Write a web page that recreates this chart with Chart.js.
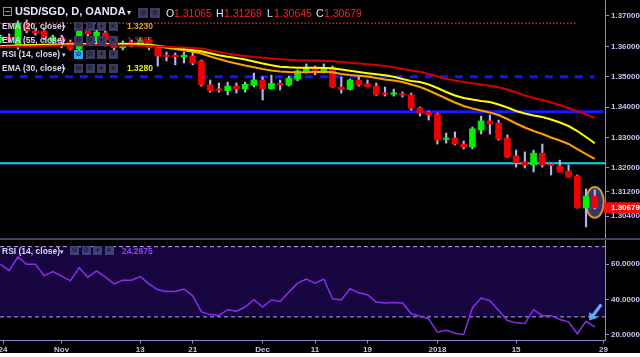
<!DOCTYPE html>
<html><head><meta charset="utf-8">
<script src="https://cdn.jsdelivr.net/npm/chart.js@4/dist/chart.umd.min.js"></script>
<style>
html,body{margin:0;padding:0;background:#fff;}
#wrap{position:relative;width:640px;height:353px;background:#000;overflow:hidden;font-family:"Liberation Sans",Arial,sans-serif;}
canvas{display:block;}
#main{position:absolute;left:0;top:0;}
#rsi{position:absolute;left:0;top:240px;}
#sep{position:absolute;left:0;top:238px;width:640px;height:2px;background:#44445e;}
.t{position:absolute;white-space:nowrap;line-height:1;}
.lg{font-size:8.5px;font-weight:bold;color:#d8d8f8;}
.dd{font-family:"DejaVu Sans",sans-serif;font-size:7px;color:#d8d8f8;}
.box{position:absolute;width:9px;height:9px;background:#3c3c5e;color:#14142a;font-size:7px;line-height:9px;text-align:center;font-family:"DejaVu Sans",sans-serif;font-weight:bold;}
.rb{background:#40407a;color:#1a1240;}
.hd{font-size:10.5px;color:#e4e4ff;}
.rd{font-size:10.5px;color:#ff2020;}
</style></head><body>
<div id="wrap">
<canvas id="main" width="640" height="238"></canvas>
<div id="sep"></div>
<canvas id="rsi" width="640" height="113"></canvas>

<!-- header -->
<div style="position:absolute;left:3px;top:7px;width:7px;height:7px;border:1px solid #8a8ad0;"></div>
<div style="position:absolute;left:5px;top:11px;width:5px;height:1px;background:#8a8ad0;"></div>
<div class="t" style="left:15px;top:6px;font-size:11px;font-weight:bold;color:#e6e6ff;">USD/SGD, D, OANDA</div>
<div class="t dd" style="left:127px;top:9px;font-size:8px;">▾</div>
<div class="box" style="left:138px;top:8px;width:10px;height:10px;line-height:10px;">⊙</div>
<div class="box" style="left:150px;top:8px;width:10px;height:10px;line-height:10px;">⚙</div>
<div class="t hd" style="left:166px;top:8px;">O</div><div class="t rd" style="left:174px;top:8px;">1.31065</div>
<div class="t hd" style="left:216px;top:8px;">H</div><div class="t rd" style="left:224px;top:8px;">1.31269</div>
<div class="t hd" style="left:267px;top:8px;">L</div><div class="t rd" style="left:274px;top:8px;">1.30645</div>
<div class="t hd" style="left:316px;top:8px;">C</div><div class="t rd" style="left:324px;top:8px;">1.30679</div>

<!-- legend rows -->
<div class="t lg" style="left:2px;top:22px;">EMA (20, close)</div><div class="t dd" style="left:62px;top:24px;">▾</div>
<div class="box" style="left:74px;top:22px;">⊙</div><div class="box" style="left:85.5px;top:22px;">⚙</div><div class="box" style="left:97px;top:22px;">+</div><div class="box" style="left:108.5px;top:22px;">×</div>
<div class="t lg" style="left:127px;top:22px;color:#e8a020;">1.3230</div>

<div class="t lg" style="left:2px;top:36px;">EMA (55, close)</div><div class="t dd" style="left:62px;top:38px;">▾</div>
<div class="box" style="left:74px;top:36px;">⊙</div><div class="box" style="left:85.5px;top:36px;">⚙</div><div class="box" style="left:97px;top:36px;">+</div><div class="box" style="left:108.5px;top:36px;">×</div>
<div class="t lg" style="left:127px;top:36px;color:#cc1010;">1.3365</div>

<div class="t lg" style="left:2px;top:49.5px;">RSI (14, close)</div><div class="t dd" style="left:62px;top:51.5px;">▾</div>
<div class="box" style="left:74px;top:49.5px;background:#3aa4e4;color:#0a2c50;">⊙</div><div class="box" style="left:85.5px;top:49.5px;">⚙</div><div class="box" style="left:97px;top:49.5px;">+</div><div class="box" style="left:108.5px;top:49.5px;">×</div>

<div class="t lg" style="left:2px;top:63.5px;">EMA (30, close)</div><div class="t dd" style="left:62px;top:65.5px;">▾</div>
<div class="box" style="left:74px;top:63.5px;">⊙</div><div class="box" style="left:85.5px;top:63.5px;">⚙</div><div class="box" style="left:97px;top:63.5px;">+</div><div class="box" style="left:108.5px;top:63.5px;">×</div>
<div class="t lg" style="left:127px;top:63.5px;color:#e8e820;">1.3280</div>

<!-- RSI legend -->
<div class="t lg" style="left:2px;top:246.5px;">RSI (14, close)</div><div class="t dd" style="left:60px;top:248.5px;">▾</div>
<div class="box rb" style="left:70px;top:246px;">⊙</div><div class="box rb" style="left:81.5px;top:246px;">⚙</div><div class="box rb" style="left:93px;top:246px;">+</div><div class="box rb" style="left:104.5px;top:246px;">×</div>
<div class="t lg" style="left:122px;top:246.5px;color:#9a3cff;">24.2975</div>
</div>

<script>
// ---------- data ----------
const tickLabels = ['24','Nov','13','21','Dec','11','19','2018','15','29'];
const tickBars   = [0.3, 7, 16, 22, 30, 36, 42, 50, 59, 69];

const open  = [1.3618,1.3631,1.3598,1.3677,1.3651,1.3651,1.3618,1.3628,1.3614,1.3591,
               1.3657,1.3618,1.3644,1.3621,1.3595,1.3611,1.3608,1.3621,1.3595,1.3570,
               1.3570,1.3565,1.3568,1.3552,1.3473,1.3458,1.3454,1.3469,1.3460,1.3472,
               1.3489,1.3460,1.3478,1.3472,1.3492,1.3516,1.3530,1.3519,1.3530,1.3466,
               1.3458,1.3489,1.3476,1.3469,1.3444,1.3442,1.3443,1.3440,1.3397,1.3384,
               1.3377,1.3293,1.3298,1.3278,1.3268,1.3324,1.3354,1.3347,1.3298,1.3239,
               1.3219,1.3209,1.3248,1.3211,1.3206,1.3189,1.3173,1.3067,1.31065];
const high  = [1.3637,1.3641,1.3684,1.3687,1.3657,1.3660,1.3637,1.3637,1.3621,1.3668,
               1.3670,1.3654,1.3651,1.3628,1.3618,1.3621,1.3628,1.3628,1.3601,1.3581,
               1.3578,1.3581,1.3581,1.3555,1.3489,1.3479,1.3482,1.3479,1.3482,1.3512,
               1.3499,1.3505,1.3489,1.3502,1.3522,1.3542,1.3535,1.3542,1.3535,1.3499,
               1.3492,1.3502,1.3489,1.3479,1.3466,1.3459,1.3450,1.3446,1.3400,1.3387,
               1.3380,1.3314,1.3318,1.3288,1.3334,1.3370,1.3374,1.3357,1.3308,1.3258,
               1.3252,1.3258,1.3278,1.3215,1.3225,1.3209,1.3176,1.3130,1.31269];
const low   = [1.3611,1.3614,1.3591,1.3644,1.3637,1.3621,1.3611,1.3595,1.3588,1.3588,
               1.3634,1.3611,1.3601,1.3588,1.3588,1.3598,1.3601,1.3588,1.3535,1.3552,
               1.3539,1.3545,1.3539,1.3469,1.3449,1.3449,1.3440,1.3446,1.3449,1.3466,
               1.3423,1.3459,1.3456,1.3469,1.3486,1.3512,1.3506,1.3512,1.3465,1.3446,
               1.3456,1.3469,1.3466,1.3438,1.3436,1.3436,1.3433,1.3390,1.3370,1.3357,
               1.3278,1.3281,1.3275,1.3262,1.3262,1.3311,1.3311,1.3291,1.3234,1.3202,
               1.3199,1.3186,1.3202,1.3176,1.3186,1.3169,1.3067,1.3005,1.30645];
const close = [1.3631,1.3621,1.3677,1.3651,1.3644,1.3628,1.3631,1.3618,1.3591,1.3664,
               1.3641,1.3647,1.3621,1.3595,1.3611,1.3604,1.3621,1.3595,1.3568,1.3566,
               1.3566,1.3571,1.3545,1.3473,1.3454,1.3455,1.3469,1.3460,1.3475,1.3489,
               1.3460,1.3478,1.3472,1.3495,1.3519,1.3530,1.3519,1.3530,1.3466,1.3458,
               1.3489,1.3473,1.3467,1.3440,1.3442,1.3444,1.3439,1.3396,1.3380,1.3374,
               1.3291,1.3296,1.3278,1.3268,1.3328,1.3354,1.3344,1.3295,1.3235,1.3216,
               1.3209,1.3248,1.3209,1.3207,1.3186,1.3169,1.3067,1.3107,1.30679];

const ema20 = [1.35995,1.36005,1.36018,1.36031,1.36037,1.36044,1.36051,1.36051,1.36051,1.36061,
               1.36070,1.36077,1.36077,1.36070,1.36067,1.36064,1.36057,1.36034,1.35995,1.35952,
               1.35912,1.35873,1.35820,1.35764,1.35665,1.35582,1.35500,1.35434,1.35368,1.35309,
               1.35253,1.35204,1.35171,1.35154,1.35144,1.35148,1.35158,1.35164,1.35144,1.35088,
               1.35055,1.35029,1.35006,1.34957,1.34907,1.34874,1.34825,1.34742,1.34660,1.34544,
               1.34412,1.34280,1.34149,1.34034,1.33951,1.33885,1.33819,1.33737,1.33605,1.33457,
               1.33325,1.33209,1.33110,1.32995,1.32896,1.32781,1.32616,1.32451,1.32287];
const ema30 = [1.36011,1.36018,1.36028,1.36037,1.36044,1.36051,1.36057,1.36064,1.36070,1.36077,
               1.36077,1.36077,1.36077,1.36077,1.36077,1.36077,1.36070,1.36051,1.36018,1.35978,
               1.35945,1.35912,1.35873,1.35837,1.35770,1.35704,1.35655,1.35615,1.35566,1.35500,
               1.35434,1.35375,1.35329,1.35309,1.35296,1.35293,1.35293,1.35286,1.35276,1.35237,
               1.35194,1.35154,1.35115,1.35078,1.35045,1.34996,1.34924,1.34858,1.34825,1.34742,
               1.34627,1.34495,1.34379,1.34297,1.34247,1.34198,1.34165,1.34083,1.33984,1.33869,
               1.33786,1.33720,1.33671,1.33589,1.33490,1.33374,1.33209,1.33011,1.32804];
const ema55 = [1.35978,1.35985,1.35991,1.35998,1.36005,1.36011,1.36018,1.36024,1.36031,1.36037,
               1.36041,1.36044,1.36044,1.36037,1.36031,1.36024,1.36018,1.36011,1.35998,1.35985,
               1.35972,1.35958,1.35945,1.35929,1.35873,1.35813,1.35760,1.35714,1.35681,1.35648,
               1.35622,1.35596,1.35576,1.35556,1.35540,1.35533,1.35530,1.35523,1.35510,1.35484,
               1.35457,1.35434,1.35411,1.35385,1.35352,1.35309,1.35253,1.35204,1.35164,1.35088,
               1.35006,1.34930,1.34874,1.34825,1.34782,1.34742,1.34699,1.34650,1.34577,1.34478,
               1.34379,1.34297,1.34231,1.34149,1.34067,1.33967,1.33869,1.33753,1.33648];

const rsi = [60,56.3,64.2,60,60,53.5,55.8,53.2,50.5,58,
             52.6,56.2,52.6,48.8,50.9,50.9,52.9,48.8,45.4,44.5,
             44.5,45.8,42,32.8,31.3,30.9,34.1,33.2,35.6,39.8,
             35.6,39.6,38.8,44.1,49.2,51.5,49.2,51.5,40.3,39.6,
             46,43.7,42.6,38.5,37.9,38.2,37.9,31.9,30.4,28.9,
             21.3,22.4,20.7,20,35.1,40.7,39.2,33.7,27.9,26.6,
             26.2,34.1,30.7,30.7,28.5,27.2,20.4,27.5,24.2975];

const priceTicks = [1.37, 1.36, 1.35, 1.34, 1.33, 1.32, 1.312, 1.304];
const rsiTicks = [20, 40, 60];
const rsiBands = [70, 30];
const levelDotted = 1.3676;   // red dotted
const levelDashed = 1.3500;   // blue dashed
const levelBlue   = 1.3384;   // blue solid
const levelCyan   = 1.3215;   // cyan

// ---------- config ----------
const X_MIN = -0.05, X_MAX = 69.17;
const PRICE_MIN = 1.29683, PRICE_MAX = 1.37527;
const RSI_MIN = 16.55, RSI_MAX = 73.5;
const AXIS = '#8c8cd0', TICK = '#c4c4f0';
const FONT = {family: 'Liberation Sans', size: 8, weight: 'bold'};
const UP = '#00f000', DOWN = '#f00000', WICK = '#b4b4f0';

const idx = open.map((_, i) => i);
const last = idx.length - 1;
const pts = arr => idx.map(i => ({x: i, y: arr[i]}));
const hline = (v, a, b) => [{x: a, y: v}, {x: b, y: v}];
const noPad = s => { s.paddingLeft = 0; s.paddingRight = 0; s.paddingTop = 0; s.paddingBottom = 0; };

const lineDs = (data, color, order, extra) => Object.assign({
  type: 'line', data, borderColor: color, borderWidth: 2, pointRadius: 0,
  tension: 0, fill: false, order
}, extra || {});

const mainDeco = {
  id: 'mainDeco',
  beforeDatasetsDraw(chart) {
    const ctx = chart.ctx, xS = chart.scales.x, yS = chart.scales.y;
    const xp = xS.getPixelForValue(last);
    const yH = yS.getPixelForValue(high[last]), yL = yS.getPixelForValue(low[last]);
    ctx.save();
    ctx.beginPath();
    ctx.ellipse(xp, (yH + yL) / 2 + 3, 9, (yL - yH) / 2 + 6, 0, 0, Math.PI * 2);
    ctx.fillStyle = '#383866';
    ctx.fill();
    ctx.lineWidth = 2;
    ctx.strokeStyle = '#d99a30';
    ctx.stroke();
    ctx.restore();
  },
  afterDraw(chart) {
    const ctx = chart.ctx, yS = chart.scales.y;
    const yp = yS.getPixelForValue(close[last]);
    ctx.save();
    ctx.fillStyle = '#ee1010';
    ctx.fillRect(yS.left - 1, yp - 5.5, 37, 11);
    ctx.fillStyle = '#ffffff';
    ctx.font = 'bold 8px "Liberation Sans"';
    ctx.textBaseline = 'middle';
    ctx.fillText(close[last].toFixed(5), yS.left + 6, yp + 0.5);
    ctx.restore();
  }
};

new Chart(document.getElementById('main'), {
  type: 'bar',
  data: {
    datasets: [
      lineDs(pts(ema55), '#d40000', 0),
      lineDs(pts(ema30), '#ffff00', 1),
      lineDs(pts(ema20), '#ffa000', 2),
      {type: 'bar', data: idx.map(i => ({x: i, y: [open[i], close[i]]})),
       backgroundColor: idx.map(i => close[i] >= open[i] ? UP : DOWN),
       barThickness: 6, minBarLength: 1.5, grouped: false, borderWidth: 0, order: 3},
      {type: 'bar', data: idx.map(i => ({x: i, y: [low[i], high[i]]})),
       backgroundColor: WICK, barThickness: 1.5, grouped: false, borderWidth: 0, order: 4},
      lineDs(hline(levelDotted, X_MIN, 66), '#d02020', 5, {borderWidth: 1.5, borderDash: [1.5, 2]}),
      lineDs(hline(levelDashed, 0.5, 68), '#1414ff', 6, {borderWidth: 3, borderDash: [8, 7]}),
      lineDs(hline(levelBlue, X_MIN, 69), '#1818ff', 7, {borderWidth: 3}),
      lineDs(hline(levelCyan, X_MIN, X_MAX), '#00dcff', 8, {borderWidth: 2})
    ]
  },
  options: {
    responsive: false, animation: false, devicePixelRatio: 1,
    layout: {padding: 0},
    plugins: {legend: {display: false}, tooltip: {enabled: false}},
    scales: {
      x: {type: 'linear', min: X_MIN, max: X_MAX, display: false, offset: false,
          afterFit: noPad},
      y: {
        type: 'linear', position: 'right', min: PRICE_MIN, max: PRICE_MAX,
        grid: {drawOnChartArea: false, drawTicks: true, tickLength: 4, color: AXIS},
        border: {display: true, color: AXIS, width: 1},
        ticks: {color: TICK, font: FONT, padding: 2, autoSkip: false, callback: v => Number(v).toFixed(5)},
        afterBuildTicks: s => { s.ticks = priceTicks.map(v => ({value: v})); },
        afterFit: s => { s.width = 35; noPad(s); }
      }
    }
  },
  plugins: [mainDeco]
});

const rsiDeco = {
  id: 'rsiDeco',
  afterDatasetsDraw(chart) {
    const ctx = chart.ctx, xS = chart.scales.x, yS = chart.scales.y;
    const x1 = xS.getPixelForValue(68.65), y1 = yS.getPixelForValue(36.5);
    const x2 = xS.getPixelForValue(67.35), y2 = yS.getPixelForValue(27.9);
    const ang = Math.atan2(y2 - y1, x2 - x1);
    const hl = 7, hw = 5;
    const bx = x2 - hl * Math.cos(ang), by = y2 - hl * Math.sin(ang);
    ctx.save();
    ctx.strokeStyle = '#58acf4';
    ctx.lineWidth = 3.2;
    ctx.lineCap = 'round';
    ctx.beginPath(); ctx.moveTo(x1, y1); ctx.lineTo(bx, by); ctx.stroke();
    ctx.fillStyle = '#58acf4';
    ctx.beginPath();
    ctx.moveTo(x2, y2);
    ctx.lineTo(bx + hw * Math.sin(ang), by - hw * Math.cos(ang));
    ctx.lineTo(bx - hw * Math.sin(ang), by + hw * Math.cos(ang));
    ctx.closePath(); ctx.fill();
    ctx.restore();
  }
};

new Chart(document.getElementById('rsi'), {
  type: 'line',
  data: {
    datasets: [
      {data: pts(rsi), borderColor: '#8c2cf0', borderWidth: 1.5, pointRadius: 0, tension: 0, fill: false, order: 0},
      {data: hline(rsiBands[0], X_MIN, X_MAX), borderColor: '#b8a8f0', borderWidth: 1, borderDash: [4, 3],
       pointRadius: 0, fill: {value: rsiBands[1]}, backgroundColor: '#170540', order: 2},
      {data: hline(rsiBands[1], X_MIN, X_MAX), borderColor: '#b8a8f0', borderWidth: 1, borderDash: [4, 3],
       pointRadius: 0, fill: false, order: 1}
    ]
  },
  options: {
    responsive: false, animation: false, devicePixelRatio: 1,
    layout: {padding: {top: 0.5, left: 0, right: 0, bottom: 0}},
    plugins: {legend: {display: false}, tooltip: {enabled: false}},
    scales: {
      x: {
        type: 'linear', min: X_MIN, max: X_MAX, offset: false,
        grid: {drawOnChartArea: false, drawTicks: true, tickLength: 3, color: AXIS},
        border: {display: true, color: AXIS, width: 1},
        ticks: {color: TICK, font: FONT, padding: 1, maxRotation: 0, autoSkip: false,
                callback: (v, i) => tickLabels[i]},
        afterBuildTicks: s => { s.ticks = tickBars.map(v => ({value: v})); },
        afterFit: s => { s.height = 12.5; noPad(s); }
      },
      y: {
        type: 'linear', position: 'right', min: RSI_MIN, max: RSI_MAX,
        grid: {drawOnChartArea: false, drawTicks: true, tickLength: 4, color: AXIS},
        border: {display: true, color: AXIS, width: 1},
        ticks: {color: TICK, font: FONT, padding: 2, autoSkip: false, callback: v => Number(v).toFixed(4)},
        afterBuildTicks: s => { s.ticks = rsiTicks.map(v => ({value: v})); },
        afterFit: s => { s.width = 35; noPad(s); }
      }
    }
  },
  plugins: [rsiDeco]
});
</script>
</body></html>
